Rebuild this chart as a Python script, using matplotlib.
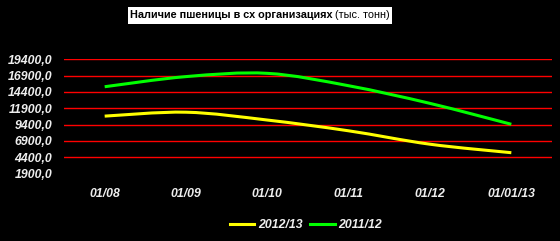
import matplotlib
matplotlib.use("Agg")
import matplotlib.pyplot as plt
from matplotlib.path import Path
from matplotlib.patches import PathPatch
from matplotlib.lines import Line2D
import numpy as np

categories = ["01/08", "01/09", "01/10", "01/11", "01/12", "01/01/13"]
series_2012_13 = [10700, 11300, 10100, 8450, 6400, 5100]
series_2011_12 = [15200, 16750, 17250, 15350, 12650, 9450]
series_names = ["2012/13", "2011/12"]
series_colors = ["#FFFF00", "#00FF00"]
y_ticks = [1900, 4400, 6900, 9400, 11900, 14400, 16900, 19400]
y_tick_labels = ["1900,0", "4400,0", "6900,0", "9400,0", "11900,0", "14400,0", "16900,0", "19400,0"]
title_bold = "Наличие пшеницы в сх организациях"
title_norm = " (тыс. тонн)"

plt.rcParams['font.family'] = ['Liberation Sans', 'DejaVu Sans']

fig = plt.figure(figsize=(5.6, 2.41), dpi=100, facecolor="black")
ax = fig.add_axes([64/560, 1-173.6/241, 488/560, (173.6-59.3)/241])
ax.set_facecolor("black")
for s in ax.spines.values():
    s.set_visible(False)

x = np.arange(len(categories))
ax.set_xlim(-0.5, len(categories) - 0.5)
ax.set_ylim(1900, 19400)

for yv in y_ticks[1:]:
    ax.axhline(yv, color="#FF0000", lw=1.0, zorder=1)


def smooth_path(xs, ys, t=1/6):
    verts = [(xs[0], ys[0])]
    codes = [Path.MOVETO]
    n = len(xs)
    for i in range(n - 1):
        p0 = (xs[max(i-1, 0)], ys[max(i-1, 0)])
        p1 = (xs[i], ys[i])
        p2 = (xs[i+1], ys[i+1])
        p3 = (xs[min(i+2, n-1)], ys[min(i+2, n-1)])
        c1 = (p1[0] + (p2[0]-p0[0])*t, p1[1] + (p2[1]-p0[1])*t)
        c2 = (p2[0] - (p3[0]-p1[0])*t, p2[1] - (p3[1]-p1[1])*t)
        verts += [c1, c2, p2]
        codes += [Path.CURVE4]*3
    return Path(verts, codes)

for vals, col in zip([series_2012_13, series_2011_12], series_colors):
    patch = PathPatch(smooth_path(x, vals), facecolor="none", edgecolor=col, lw=2.2, zorder=3)
    ax.add_patch(patch)

ax.set_yticks(y_ticks)
ax.set_yticklabels(y_tick_labels)
ax.set_xticks(x)
ax.set_xticklabels(categories)
ax.tick_params(axis="both", length=0, colors="#EEEEEE")
ax.tick_params(axis="y", pad=8.5)
ax.tick_params(axis="x", pad=10.5)
for lab in ax.get_yticklabels() + ax.get_xticklabels():
    lab.set_fontweight("bold")
    lab.set_fontstyle("italic")
    lab.set_fontsize(8.8)
    lab.set_color("#EEEEEE")

# title: white box with bold + normal text
t1 = fig.text(0.0, 1 - 15.5/241, title_bold, fontsize=7.8, fontweight="bold", color="black",
              va="center", ha="left")
t2 = fig.text(0.0, 1 - 15.5/241, title_norm, fontsize=7.8, color="black", va="center", ha="left")
fig.canvas.draw()
r = fig.canvas.get_renderer()
w1 = t1.get_window_extent(r).width
w2 = t2.get_window_extent(r).width
total = w1 + w2
x0 = (260 - total/2)
t1.set_x(x0/560)
t2.set_x((x0 + w1)/560)
fig.patches.append(plt.Rectangle(((x0-2)/560, 1-24/241), (total+4)/560, 17/241,
                                 transform=fig.transFigure, facecolor="white", edgecolor="none", zorder=0))

handles = [Line2D([0], [0], color=c, lw=2.2) for c in series_colors]
leg = fig.legend(handles, series_names, loc="center", bbox_to_anchor=(306/560, 1-225.5/241), ncol=2,
                 frameon=False, handlelength=2.0, handletextpad=0.3, columnspacing=0.6,
                 prop={"weight": "bold", "style": "italic", "size": 8.8})
for tx in leg.get_texts():
    tx.set_color("#EEEEEE")

fig.savefig("out.png", dpi=100, facecolor="black")
